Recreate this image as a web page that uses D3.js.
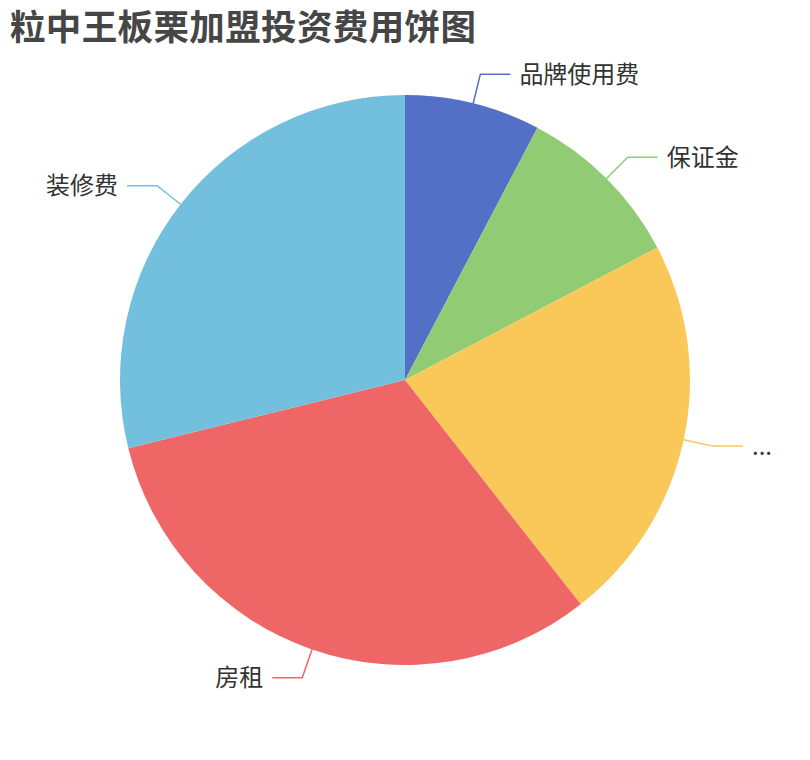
<!DOCTYPE html>
<html>
<head>
<meta charset="utf-8">
<script src="https://cdn.jsdelivr.net/npm/d3@7"></script>
<style>
  body { margin: 0; background: #fff; }
  text { font-family: "Noto Sans CJK SC", "Noto Sans", sans-serif; }
</style>
</head>
<body>
<div id="chart"></div>
<script>
// data
const names = ['品牌使用费', '保证金', '...', '房租', '装修费']
const values = [0.8, 1, 2.3, 3.3, 3]
const colors = ['#5470c6', '#91cc75', '#fac858', '#ee6666', '#73c0de']

const width = 810, height = 760
const cx = 405, cy = 380, radius = 285
const len1 = 30, len2 = 30

const svg = d3.select('#chart').append('svg')
  .attr('width', width)
  .attr('height', height)

svg.append('text')
  .attr('x', 10)
  .attr('y', 40)
  .attr('font-size', 35.5)
  .attr('font-weight', 'bold')
  .attr('fill', '#464646')
  .attr('textLength', 466)
  .attr('lengthAdjust', 'spacing')
  .text('粒中王板栗加盟投资费用饼图')

const data = names.map((n, i) => ({ name: n, value: values[i], color: colors[i] }))

const pie = d3.pie().sort(null).value(d => d.value)
const arcs = pie(data)
const arc = d3.arc().innerRadius(0).outerRadius(radius)

const g = svg.append('g').attr('transform', `translate(${cx},${cy})`)

g.selectAll('path.slice')
  .data(arcs)
  .enter()
  .append('path')
  .attr('class', 'slice')
  .attr('d', arc)
  .attr('fill', d => d.data.color)

// label lines + labels
const pt = (a, r) => [r * Math.sin(a), -r * Math.cos(a)]

arcs.forEach(d => {
  const mid = (d.startAngle + d.endAngle) / 2
  const p0 = pt(mid, radius)
  const p1 = pt(mid, radius + len1)
  const right = Math.sin(mid) >= 0
  const p2 = [p1[0] + (right ? len2 : -len2), p1[1]]

  g.append('polyline')
    .attr('points', [p0, p1, p2].map(p => p.join(',')).join(' '))
    .attr('fill', 'none')
    .attr('stroke', d.data.color)
    .attr('stroke-width', 1.5)

  g.append('text')
    .attr('x', p2[0] + (right ? 9 : -9))
    .attr('y', p2[1])
    .attr('dy', '0.35em')
    .attr('text-anchor', right ? 'start' : 'end')
    .attr('font-size', 24)
    .attr('fill', '#333')
    .text(d.data.name)
})
</script>
</body>
</html>
